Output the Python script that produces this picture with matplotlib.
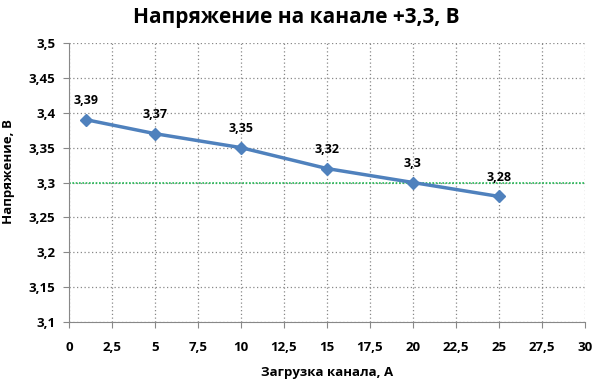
import matplotlib
matplotlib.use("Agg")
import matplotlib.pyplot as plt
from matplotlib.ticker import MultipleLocator, FuncFormatter

load_a = [1, 5, 10, 15, 20, 25]
voltage_v = [3.39, 3.37, 3.35, 3.32, 3.30, 3.28]
labels = ["3,39", "3,37", "3,35", "3,32", "3,3", "3,28"]
nominal = 3.3

plt.rcParams['font.family'] = ['Open Sans', 'DejaVu Sans']
plt.rcParams['font.weight'] = 'bold'

fig = plt.figure(figsize=(5.99, 3.85), dpi=100)
ax = fig.add_axes([69/599, 1-322/385, (585-69)/599, (322-43)/385])

ax.set_xlim(0, 30)
ax.set_ylim(3.1, 3.5)
ax.xaxis.set_major_locator(MultipleLocator(2.5))
ax.yaxis.set_major_locator(MultipleLocator(0.05))

def fmt(v, pos):
    s = f"{v:.2f}".rstrip('0').rstrip('.')
    return s.replace('.', ',')
ax.xaxis.set_major_formatter(FuncFormatter(fmt))
ax.yaxis.set_major_formatter(FuncFormatter(fmt))

ax.grid(True, color='#888888', linestyle=(0, (1, 2)), linewidth=0.9)
ax.set_axisbelow(True)
for s in ['top', 'right']:
    ax.spines[s].set_visible(False)
for s in ['left', 'bottom']:
    ax.spines[s].set_color('#888888')
ax.tick_params(axis='both', colors='#888888', length=4, labelcolor='black', labelsize=9.5)
ax.tick_params(axis='x', pad=10)
ax.tick_params(axis='y', pad=6)

ax.axhline(nominal, color='#22BB55', linewidth=1.2, linestyle=(0, (1, 1)))
ax.plot(load_a, voltage_v, color='#4F81BD', linewidth=2.5, marker='D', markersize=6, zorder=3)
for x, y, t in zip(load_a, voltage_v, labels):
    ax.annotate(t, (x, y), xytext=(0, 9), textcoords='offset points', ha='center', va='bottom',
                fontsize=9, fontweight='bold')

fig.text(296/599, 1-17/385, "Напряжение на канале +3,3, В", fontsize=15, fontweight='bold',
         ha='center', va='center')
ax.set_xlabel("Загрузка канала, А", fontsize=9.5, fontweight='bold', labelpad=8)
ax.set_ylabel("Напряжение, В", fontsize=9.5, fontweight='bold', labelpad=6)
ax.yaxis.set_label_coords(-0.105, 0.54)

fig.savefig("out.png", dpi=100)
